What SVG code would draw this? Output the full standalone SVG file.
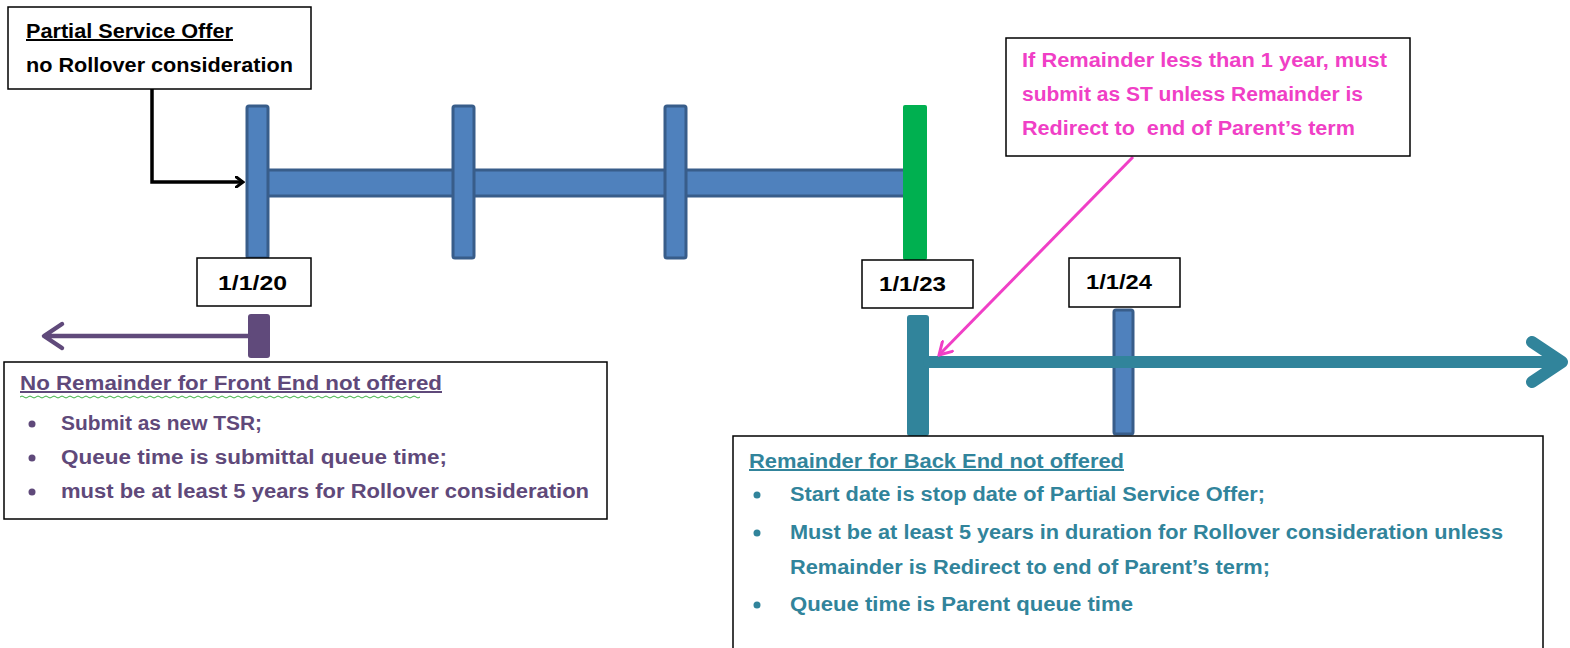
<svg xmlns="http://www.w3.org/2000/svg" width="1570" height="648" viewBox="0 0 1570 648">
<defs>
<style>
text{font-family:"Liberation Sans",Arial,sans-serif;font-weight:bold;font-size:20px}
.box{fill:#fff;stroke:#000;stroke-width:1.5}
.blue{fill:#4f81bd;stroke:#385d8a;stroke-width:3}
.blk{fill:#000}
.pur{fill:#5f497a}
.pink{fill:#f03fc6}
.teal{fill:#31849b}
</style>
<marker id="ablack" markerWidth="10" markerHeight="12" refX="8" refY="6" orient="auto" markerUnits="userSpaceOnUse"><path d="M0,0 L8,6 L0,12" fill="none" stroke="#000" stroke-width="3" stroke-linecap="round"/></marker>
<marker id="apink" markerWidth="16" markerHeight="16" refX="14" refY="8" orient="auto" markerUnits="userSpaceOnUse"><path d="M2,1 L14,8 L2,15" fill="none" stroke="#f03fc6" stroke-width="3" stroke-linecap="round"/></marker>
</defs>
<rect width="1570" height="648" fill="#fff"/>

<g id="timeline-top">
<rect class="blue" x="262" y="170" width="645" height="26"/>
<rect class="blue" x="247" y="106" width="21" height="152" rx="2"/>
<rect class="blue" x="453" y="106" width="21" height="152" rx="2"/>
<rect class="blue" x="665" y="106" width="21" height="152" rx="2"/>
<rect x="903" y="105" width="24" height="155" rx="2" fill="#00b050"/>
</g>

<g id="timeline-front">
<rect x="248" y="314" width="22" height="44" rx="3" fill="#604a7b"/>
</g>

<g id="timeline-back">
<rect x="907" y="315" width="22" height="121" rx="3" fill="#31849b"/>
<rect class="blue" x="1114" y="310" width="19" height="124" rx="2"/>
</g>

<g id="connectors">
<path d="M152,89 V182 H243" fill="none" stroke="#000" stroke-width="3.5" marker-end="url(#ablack)"/>
<path d="M248,336 H46 M62,324 L44,336 L62,348" fill="none" stroke="#604a7b" stroke-width="4.5" stroke-linecap="round" stroke-linejoin="round"/>
<path d="M929,362 H1557 M1532,342 L1562,362 L1532,382" fill="none" stroke="#31849b" stroke-width="12" stroke-linecap="round" stroke-linejoin="round"/>
<path d="M1133,157 L939,355" fill="none" stroke="#f03fc6" stroke-width="3" marker-end="url(#apink)"/>
</g>

<g id="node-partial">
<rect class="box" x="8" y="7" width="303" height="82"/>
<text class="blk" x="26" y="38" textLength="207" lengthAdjust="spacingAndGlyphs" text-decoration="underline">Partial Service Offer</text>
<text class="blk" x="26" y="72" textLength="267" lengthAdjust="spacingAndGlyphs">no Rollover consideration</text>
</g>

<g id="node-d20">
<rect class="box" x="197" y="258" width="114" height="48"/>
<text class="blk" x="218" y="290" textLength="69" lengthAdjust="spacingAndGlyphs">1/1/20</text>
</g>
<g id="node-d23">
<rect class="box" x="862" y="260" width="111" height="48"/>
<text class="blk" x="879" y="291" textLength="67" lengthAdjust="spacingAndGlyphs">1/1/23</text>
</g>
<g id="node-d24">
<rect class="box" x="1069" y="258" width="111" height="49"/>
<text class="blk" x="1086" y="289" textLength="66" lengthAdjust="spacingAndGlyphs">1/1/24</text>
</g>

<g id="node-pink">
<rect class="box" x="1006" y="38" width="404" height="118"/>
<text class="pink" x="1022" y="67" textLength="365" lengthAdjust="spacingAndGlyphs">If Remainder less than 1 year, must</text>
<text class="pink" x="1022" y="101" textLength="341" lengthAdjust="spacingAndGlyphs">submit as ST unless Remainder is</text>
<text class="pink" x="1022" y="135" textLength="333" lengthAdjust="spacingAndGlyphs">Redirect to&#160; end of Parent’s term</text>
</g>

<g id="node-front">
<rect class="box" x="4" y="362" width="603" height="157"/>
<text class="pur" x="20" y="390" textLength="422" lengthAdjust="spacingAndGlyphs" text-decoration="underline">No Remainder for Front End not offered</text>
<path d="M20,397 q2,-2 4,0 t4,0 t4,0 t4,0 t4,0 t4,0 t4,0 t4,0 t4,0 t4,0 t4,0 t4,0 t4,0 t4,0 t4,0 t4,0 t4,0 t4,0 t4,0 t4,0 t4,0 t4,0 t4,0 t4,0 t4,0 t4,0 t4,0 t4,0 t4,0 t4,0 t4,0 t4,0 t4,0 t4,0 t4,0 t4,0 t4,0 t4,0 t4,0 t4,0 t4,0 t4,0 t4,0 t4,0 t4,0 t4,0 t4,0 t4,0 t4,0 t4,0 t4,0 t4,0 t4,0 t4,0 t4,0 t4,0 t4,0 t4,0 t4,0 t4,0 t4,0 t4,0 t4,0 t4,0 t4,0 t4,0 t4,0 t4,0 t4,0 t4,0 t4,0 t4,0 t4,0 t4,0 t4,0 t4,0 t4,0 t4,0 t4,0 t4,0 t4,0 t4,0 t4,0 t4,0 t4,0 t4,0 t4,0 t4,0 t4,0 t4,0 t4,0 t4,0 t4,0 t4,0 t4,0 t4,0 t4,0 t4,0 t4,0 t4,0" fill="none" stroke="#3cb043" stroke-width="1"/>
<circle class="pur" cx="32" cy="424" r="3.5"/>
<circle class="pur" cx="32" cy="458" r="3.5"/>
<circle class="pur" cx="32" cy="492" r="3.5"/>
<text class="pur" x="61" y="430" textLength="201" lengthAdjust="spacingAndGlyphs">Submit as new TSR;</text>
<text class="pur" x="61" y="464" textLength="386" lengthAdjust="spacingAndGlyphs">Queue time is submittal queue time;</text>
<text class="pur" x="61" y="498" textLength="528" lengthAdjust="spacingAndGlyphs">must be at least 5 years for Rollover consideration</text>
</g>

<g id="node-back">
<rect class="box" x="733" y="436" width="810" height="220"/>
<text class="teal" x="749" y="468" textLength="375" lengthAdjust="spacingAndGlyphs" text-decoration="underline">Remainder for Back End not offered</text>
<circle class="teal" cx="757" cy="495" r="3.5"/>
<circle class="teal" cx="757" cy="533" r="3.5"/>
<circle class="teal" cx="757" cy="605" r="3.5"/>
<text class="teal" x="790" y="501" textLength="475" lengthAdjust="spacingAndGlyphs">Start date is stop date of Partial Service Offer;</text>
<text class="teal" x="790" y="539" textLength="713" lengthAdjust="spacingAndGlyphs">Must be at least 5 years in duration for Rollover consideration unless</text>
<text class="teal" x="790" y="574" textLength="480" lengthAdjust="spacingAndGlyphs">Remainder is Redirect to end of Parent’s term;</text>
<text class="teal" x="790" y="611" textLength="343" lengthAdjust="spacingAndGlyphs">Queue time is Parent queue time</text>
</g>
</svg>
